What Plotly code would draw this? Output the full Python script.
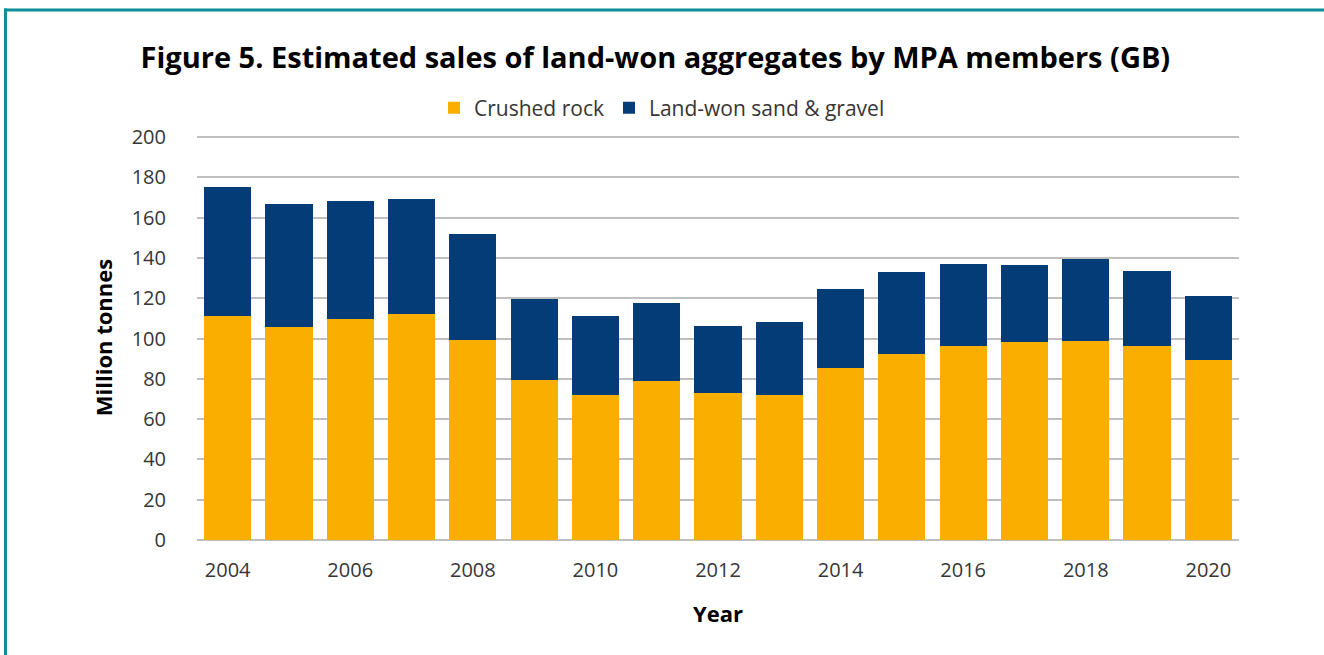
import plotly.graph_objects as go

# Estimated sales of land-won aggregates by MPA members (GB), million tonnes
years = list(range(2004, 2021))
crushed_rock = [111.1, 105.7, 109.5, 112.3, 99.2, 79.2, 71.8, 78.7, 72.8,
                71.8, 85.5, 92.4, 96.3, 98.2, 98.8, 96.3, 89.5]
sand_gravel = [64.0, 61.1, 58.7, 56.9, 52.9, 40.6, 39.2, 38.7, 33.2,
               36.2, 39.1, 40.6, 40.6, 38.2, 40.6, 37.2, 31.7]

FONT = "Open Sans"
ORANGE = "#F9AE00"
NAVY = "#033C77"
TEAL = "#118C99"

W, H = 1324, 655
L, R, T, B = 197, 85, 135, 115
pw, ph = W - L - R, H - T - B


def px_x(px):
    return (px - L) / pw


def px_y(py):
    return (H - B - py) / ph


fig = go.Figure()
fig.add_trace(go.Bar(x=years, y=crushed_rock, name="Crushed rock",
                     marker=dict(color=ORANGE, line_width=0)))
fig.add_trace(go.Bar(x=years, y=sand_gravel, name="Land-won sand & gravel",
                     marker=dict(color=NAVY, line_width=0)))

# teal frame: left and top edges only
frame = dict(color=TEAL, width=3)
fig.add_shape(type="line", xref="paper", yref="paper",
              x0=px_x(5.5), x1=px_x(5.5), y0=px_y(700), y1=px_y(8.5), line=frame)
fig.add_shape(type="line", xref="paper", yref="paper",
              x0=px_x(4), x1=px_x(1340), y0=px_y(10), y1=px_y(10), line=frame)

fig.update_layout(
    width=W, height=H,
    margin=dict(l=L, r=R, t=T, b=B, autoexpand=False),
    barmode="stack", bargap=0.23,
    plot_bgcolor="white", paper_bgcolor="white",
    font=dict(family=FONT, color="#363636", size=20),
    title=dict(text="<b>Figure 5. Estimated sales of land-won aggregates by MPA members (GB)</b>",
               x=0.495, xanchor="center", y=1 - 58 / H, yanchor="middle",
               font=dict(size=29, color="black")),
    legend=dict(orientation="h", x=(662 - L) / pw, xanchor="center",
                y=px_y(108), yanchor="middle", traceorder="normal",
                font=dict(size=21), itemwidth=30),
    xaxis=dict(range=[2003.5, 2020.5], tickmode="array",
               tickvals=years[::2], ticks="", showgrid=False,
               showline=False, zeroline=False, ticklabelstandoff=16,
               automargin=False,
               title=dict(text="<b>Year</b>", font=dict(size=22, color="black"),
                          standoff=24)),
    yaxis=dict(range=[0, 201], tickvals=list(range(0, 201, 20)),
               showgrid=True, gridcolor="#BFBFBF",
               gridwidth=1.5, zeroline=True, zerolinecolor="#BFBFBF",
               zerolinewidth=2, ticks="", ticklabelstandoff=30,
               automargin=False,
               title=dict(text="<b>Million tonnes</b>",
                          font=dict(size=22, color="black"), standoff=12)),
)

fig.write_html("out.html", config={"displayModeBar": False},
               post_script="document.body.style.margin='0';")
